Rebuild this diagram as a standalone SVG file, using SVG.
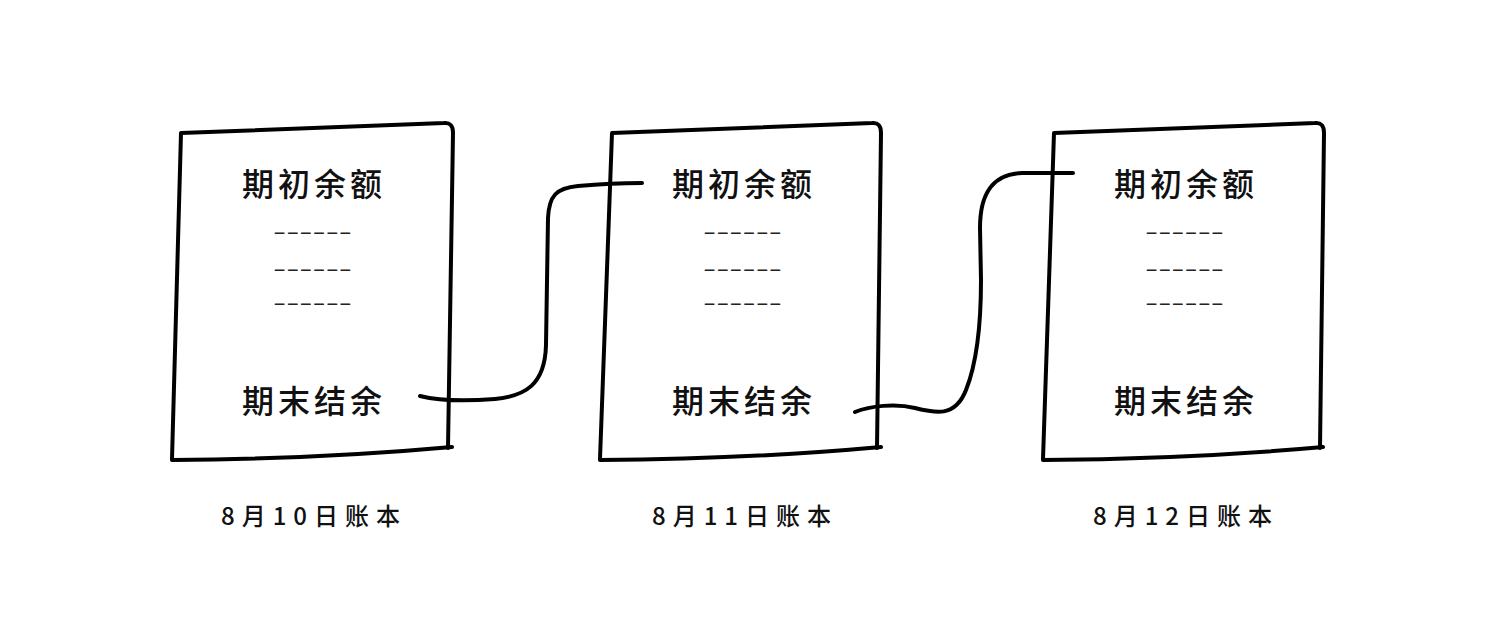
<svg xmlns="http://www.w3.org/2000/svg" width="1500" height="640" viewBox="0 0 1500 640">
<style>
.box{fill:none;stroke:#000;stroke-width:4;stroke-linecap:round;stroke-linejoin:round}
.conn{fill:none;stroke:#000;stroke-width:4;stroke-linecap:round}
.t{font-family:"Noto Sans CJK SC","Noto Sans",sans-serif;font-size:32px;font-weight:500;letter-spacing:4px;fill:#111;dominant-baseline:central}
.d{font-family:"Liberation Sans",sans-serif;font-size:20px;fill:#222;dominant-baseline:central}
.lbl{font-family:"Noto Sans CJK SC","Noto Sans",sans-serif;font-size:24px;font-weight:500;letter-spacing:7px;fill:#111;dominant-baseline:central}
</style>
<rect width="1500" height="640" fill="#fff"/>
<g id="book1">
<path class="box" d="M172,459 L181,133 L444,123 Q453,122 453,133 L448,448"/>
<path class="box" d="M172,460 Q320,459 452,447"/>
<text class="t" x="242" y="182">期初余额</text>
<text class="d" x="273" y="232" textLength="79" lengthAdjust="spacingAndGlyphs">------</text>
<text class="d" x="273" y="269" textLength="79" lengthAdjust="spacingAndGlyphs">------</text>
<text class="d" x="273" y="303" textLength="79" lengthAdjust="spacingAndGlyphs">------</text>
<text class="t" x="242" y="399">期末结余</text>
<text class="lbl" x="221" y="514">8月10日账本</text>
</g>
<g id="book2">
<path class="box" d="M600,459 L612,133 L872,123 Q881,122 881,133 L877,448"/>
<path class="box" d="M600,460 Q750,459 881,447"/>
<text class="t" x="672" y="182">期初余额</text>
<text class="d" x="703" y="232" textLength="79" lengthAdjust="spacingAndGlyphs">------</text>
<text class="d" x="703" y="269" textLength="79" lengthAdjust="spacingAndGlyphs">------</text>
<text class="d" x="703" y="303" textLength="79" lengthAdjust="spacingAndGlyphs">------</text>
<text class="t" x="672" y="399">期末结余</text>
<text class="lbl" x="652" y="514">8月11日账本</text>
</g>
<g id="book3">
<path class="box" d="M1043,459 L1054,133 L1315,123 Q1324,122 1324,133 L1320,448"/>
<path class="box" d="M1043,460 Q1190,459 1323,447"/>
<text class="t" x="1114" y="182">期初余额</text>
<text class="d" x="1145" y="232" textLength="79" lengthAdjust="spacingAndGlyphs">------</text>
<text class="d" x="1145" y="269" textLength="79" lengthAdjust="spacingAndGlyphs">------</text>
<text class="d" x="1145" y="303" textLength="79" lengthAdjust="spacingAndGlyphs">------</text>
<text class="t" x="1114" y="399">期末结余</text>
<text class="lbl" x="1093" y="514">8月12日账本</text>
</g>
<g id="connectors">
<path class="conn" d="M420,396 C440,401 470,401 495,399 C525,396 545,385 546,345 L548,218 C549,196 556,188 578,186 C600,184 620,183 642,183"/>
<path class="conn" d="M855,412 C870,406 895,403 915,408 C935,413 955,418 966,390 C978,360 981,320 981,280 L980,228 C980,190 995,174 1022,173 L1073,173"/>
</g>
</svg>
